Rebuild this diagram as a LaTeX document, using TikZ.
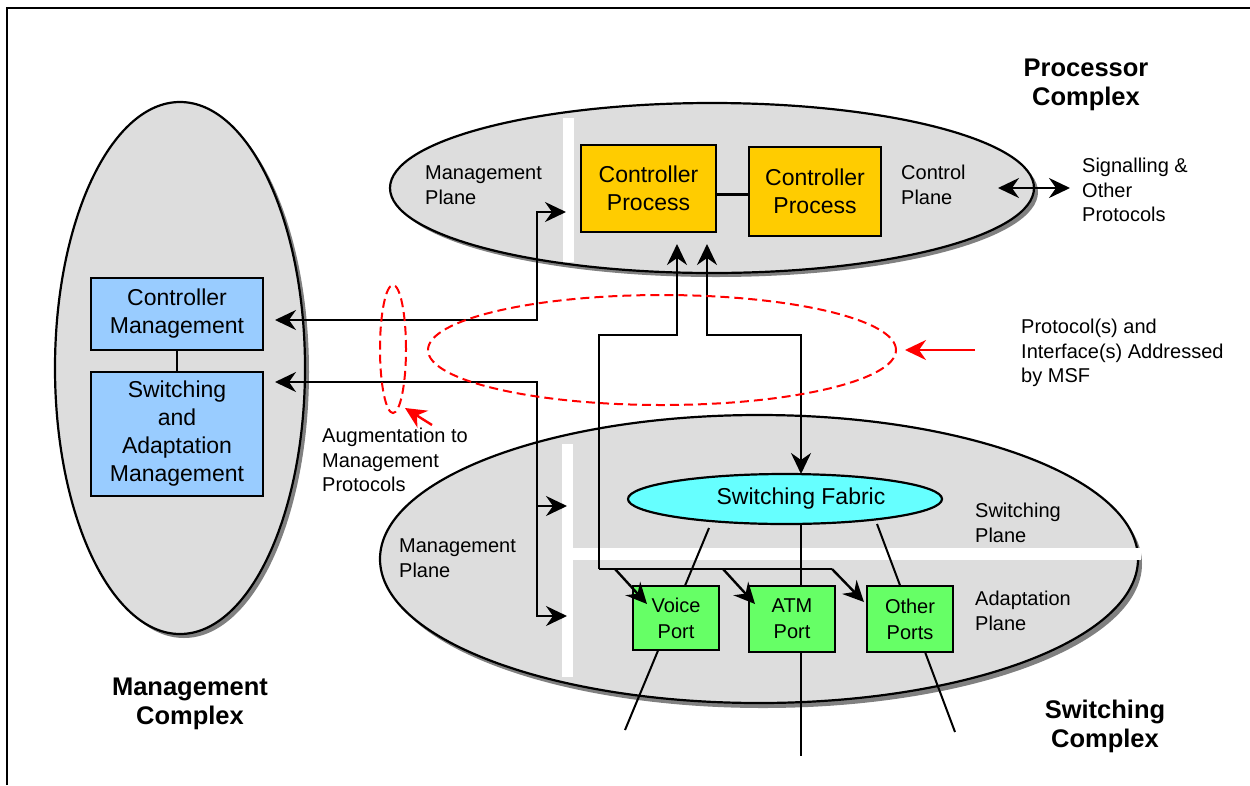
\documentclass[tikz,border=0pt]{standalone}
\usepackage{fontspec}
\setmainfont{Liberation Sans}
\usetikzlibrary{shapes.geometric,arrows.meta}
\definecolor{cplane}{HTML}{DDDDDD}
\definecolor{shadowc}{HTML}{808080}
\definecolor{orangebox}{HTML}{FFCC00}
\definecolor{bluebox}{HTML}{99CCFF}
\definecolor{greenbox}{HTML}{66FF66}
\definecolor{cyanfab}{HTML}{66FFFF}
\begin{document}
\begin{tikzpicture}[x=1pt,y=-1pt,
  complexell/.style={ellipse, draw=black, line width=2.2pt, fill=cplane, inner sep=0pt},
  shadowell/.style={ellipse, fill=shadowc, inner sep=0pt},
  lbl/.style={align=left, font=\fontsize{20}{24.5}\selectfont, inner sep=0pt, anchor=west},
  ttl/.style={align=center, font=\bfseries\fontsize{25.5}{29}\selectfont, inner sep=0pt},
  boxtxt/.style={draw=black, line width=2.2pt, align=center, inner sep=0pt,
                 font=\fontsize{23}{28}\selectfont},
  procbox/.style={boxtxt, fill=orangebox},
  mgmtbox/.style={boxtxt, fill=bluebox},
  portbox/.style={boxtxt, fill=greenbox, font=\fontsize{20}{26}\selectfont},
  wire/.style={line width=2.4pt},
  tip/.style={-{Stealth[length=21pt,width=20pt,inset=7pt]}},
  dtip/.style={{Stealth[length=21pt,width=20pt,inset=7pt]}-{Stealth[length=21pt,width=20pt,inset=7pt]}},
  redtip/.style={red, line width=2.4pt, -{Stealth[length=21pt,width=20pt,inset=7pt]}},
  reddash/.style={draw=red, line width=2pt, dash pattern=on 9pt off 5pt, ellipse, inner sep=0pt},
  whitebar/.style={fill=white}
]
\useasboundingbox (0,0) rectangle (1250,785);
% frame
\draw[line width=2.4pt] (7,785) -- (7,8) -- (1250,8);

% complexes
\node[shadowell, minimum width=250, minimum height=532] (mgmtS) at (184,372) {};
\node[complexell, minimum width=250, minimum height=532] (mgmtC) at (180,368) {};
\node[shadowell, minimum width=644, minimum height=170] (procS) at (716,192) {};
\node[complexell, minimum width=644, minimum height=170] (procC) at (712,188) {};
\node[shadowell, minimum width=758, minimum height=288] (swS) at (763,564) {};
\node[complexell, minimum width=758, minimum height=288] (swC) at (759,559) {};

% white plane separators
\fill[whitebar] (563,118) rectangle (574,262);
\fill[whitebar] (562,444) rectangle (573,677);
\fill[whitebar] (573,548) rectangle (1141,560);

% titles and labels
\node[ttl] (procT) at (1086,85) {Processor\\Complex};
\node[ttl] (mgmtT) at (190,704) {Management\\Complex};
\node[ttl] (swT) at (1105,726) {Switching\\Complex};
\node[lbl] (mpTop) at (425,185) {Management\\Plane};
\node[lbl] (cpl) at (901,185) {Control\\Plane};
\node[lbl] (sig) at (1082,190) {Signalling \&\\Other\\Protocols};
\node[lbl] (mpBot) at (399,558) {Management\\Plane};
\node[lbl] (spl) at (975,523) {Switching\\Plane};
\node[lbl] (apl) at (975,611) {Adaptation\\Plane};
\node[lbl] (augT) at (322,460) {Augmentation to\\Management\\Protocols};
\node[lbl] (msfT) at (1021,353) {Protocol(s) and\\Interface(s) Addressed\\by MSF};

% fabric-to-port lines (behind boxes)
\coordinate (fabL) at (709,528); \coordinate (extL) at (625,730);
\coordinate (fabM) at (801,524); \coordinate (extM) at (801,756);
\coordinate (fabR) at (877,524); \coordinate (extR) at (955,732);
\draw[line width=2pt] (fabL) -- (extL);
\draw[line width=2pt] (fabM) -- (extM);
\draw[line width=2pt] (fabR) -- (extR);

% boxes
\node[procbox, minimum width=135, minimum height=87] (cp1) at (648.5,188.5) {Controller\\Process};
\node[procbox, minimum width=132, minimum height=89] (cp2) at (815,191.5) {Controller\\Process};
\draw[wire] ([yshift=-6pt]cp1.east) -- ([yshift=-6pt]cp1.east -| cp2.west);

\node[mgmtbox, minimum width=172, minimum height=72] (cm) at (177,314) {Controller\\Management};
\node[mgmtbox, minimum width=172, minimum height=124] (sam) at (177,434) {Switching\\and\\Adaptation\\Management};
\draw[wire] (cm) -- (sam);

\node[ellipse, draw=black, line width=2.2pt, fill=cyanfab, minimum width=314, minimum height=50, inner sep=0pt] (fab) at (785,499) {};
\node[font=\fontsize{23}{28}\selectfont, inner sep=0pt] (fabT) at (801,499) {Switching Fabric};

\node[portbox, minimum width=86, minimum height=64] (voice) at (676,618) {Voice\\Port};
\node[portbox, minimum width=86, minimum height=66] (atm) at (792,619) {ATM\\Port};
\node[portbox, minimum width=86, minimum height=66] (other) at (910,619) {Other\\Ports};

% signalling
\coordinate (sigL) at (998,188); \coordinate (sigR) at (1070,188);
\draw[wire, dtip] (sigL) -- (sigR);

% management connectors
\coordinate (cmTip) at (275,320);
\coordinate (mj1) at (537,320);
\coordinate (mpTip) at (566,212);
\draw[wire, dtip] (cmTip) -- (mj1) |- (mpTip);
\coordinate (samTip) at (275,382);
\coordinate (mj2) at (537,382);
\coordinate (mb1) at (567,506);
\coordinate (mb2) at (567,616);
\draw[wire, dtip] (samTip) -- (mj2) |- (mb2);
\draw[wire, tip] (mb1 -| mj2) -- (mb1);

% controller to ports
\coordinate (c1Tip) at (677,244);
\coordinate (c1k) at (599,335);
\coordinate (busL) at (599,569);
\coordinate (busR) at (832,569);
\draw[wire, tip] (busL) -- (c1k) -| (c1Tip);
\draw[wire] (busL) -- (busR);
\coordinate (bV) at (615,569); \coordinate (tV) at (647,604);
\coordinate (bA) at (723,569); \coordinate (tA) at (755,604);
\coordinate (tO) at (864,602);
\draw[wire, tip] (bV) -- (tV);
\draw[wire, tip] (bA) -- (tA);
\draw[wire, tip] (busR) -- (tO);

% controller to fabric
\coordinate (c2Tip) at (707,244);
\coordinate (c2k) at (801,335);
\coordinate (fabTip) at (801,474);
\draw[wire, dtip] (c2Tip) |- (c2k) -- (fabTip);

% red dashed ellipses and arrows
\node[reddash, minimum width=26, minimum height=128] (aug) at (393,349) {};
\node[reddash, minimum width=468, minimum height=110] (msf) at (662,350) {};
\coordinate (msfA) at (975,350); \coordinate (msfB) at (905,350);
\draw[redtip] (msfA) -- (msfB);
\coordinate (augA) at (432,425); \coordinate (augB) at (405,408);
\draw[redtip] (augA) -- (augB);
\end{tikzpicture}
\end{document}
